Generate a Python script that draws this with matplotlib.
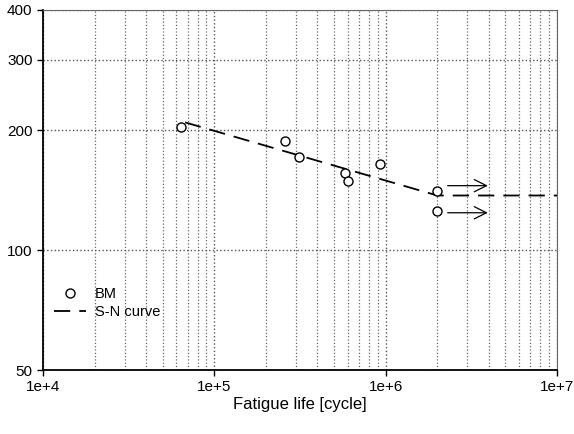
"""
S-N diagram: BM fatigue test results with S-N curve
"""

import numpy as np
import matplotlib.pyplot as plt
from matplotlib.ticker import FixedLocator, FixedFormatter, LogLocator, NullFormatter

plt.rcParams['font.family'] = ['Liberation Sans', 'DejaVu Sans']

# Test data (BM)
bm_life = [64000, 259000, 312000, 580000, 601000, 927000, 2.0e6, 2.0e6]
bm_stress = [203, 188, 171.5, 156, 149, 164, 141, 125]

# S-N curve (sloped part + knee + endurance level)
sn_life = [67500, 2.0e6, 1.0e7]
sn_stress = [209, 137, 137]

# Run-out arrows
runout_start = [2.3e6, 2.3e6]
runout_end = [3.95e6, 3.95e6]
runout_stress = [145, 124]

x_ticks = [1e4, 1e5, 1e6, 1e7]
x_labels = ['1e+4', '1e+5', '1e+6', '1e+7']
y_ticks = [50, 100, 200, 300, 400]
y_labels = ['50', '100', '200', '300', '400']

fig = plt.figure(figsize=(5.74, 4.34), dpi=100)
ax = fig.add_axes([43 / 574, 1 - 370 / 434, 514 / 574, 360 / 434])

ax.set_xscale('log')
ax.set_yscale('log')
ax.set_xlim(1e4, 1e7)
ax.set_ylim(50, 400)

# grid
ax.xaxis.set_major_locator(FixedLocator(x_ticks))
ax.xaxis.set_major_formatter(FixedFormatter(x_labels))
ax.xaxis.set_minor_locator(LogLocator(base=10, subs=np.arange(2, 10)))
ax.xaxis.set_minor_formatter(NullFormatter())
ax.yaxis.set_major_locator(FixedLocator(y_ticks))
ax.yaxis.set_major_formatter(FixedFormatter(y_labels))
ax.yaxis.set_minor_locator(FixedLocator([]))
ax.grid(True, which='major', axis='both', color='#555555', linestyle=':', linewidth=1.0)
ax.grid(True, which='minor', axis='x', color='#666666', linestyle=':', linewidth=0.9)
ax.set_axisbelow(True)

ax.tick_params(which='major', direction='out', length=4, width=1, labelsize=11,
               colors='black')
ax.tick_params(which='minor', length=0)
ax.tick_params(axis='x', pad=3)

for s in ['left', 'bottom']:
    ax.spines[s].set_linewidth(1.3)
for s in ['top', 'right']:
    ax.spines[s].set_color('#666666')
    ax.spines[s].set_linewidth(0.8)

# S-N curve
ax.plot(sn_life, sn_stress, color='black', linestyle=(0, (9, 5)), linewidth=1.3,
        label='S-N curve', zorder=3)

# data points
ax.plot(bm_life, bm_stress, linestyle='none', marker='o', markersize=6.5,
        markerfacecolor='white', markeredgecolor='black', markeredgewidth=1.0,
        label='BM', zorder=4)

# run-out arrows
for x0, x1, y in zip(runout_start, runout_end, runout_stress):
    ax.annotate('', xy=(x1, y), xytext=(x0, y),
                arrowprops=dict(arrowstyle='->', color='black', lw=0.9,
                                mutation_scale=22, shrinkA=0, shrinkB=0))

handles, labels = ax.get_legend_handles_labels()
ax.legend(handles[::-1], labels[::-1], loc='lower left', bbox_to_anchor=(-0.004, 0.104),
          frameon=False, fontsize=10.5, handlelength=2.2, handletextpad=0.6,
          labelspacing=0.3)

fig.text(300 / 574, 1 - 405 / 434, 'Fatigue life [cycle]', ha='center', va='center',
         fontsize=12)

plt.savefig('out.png', dpi=100)
